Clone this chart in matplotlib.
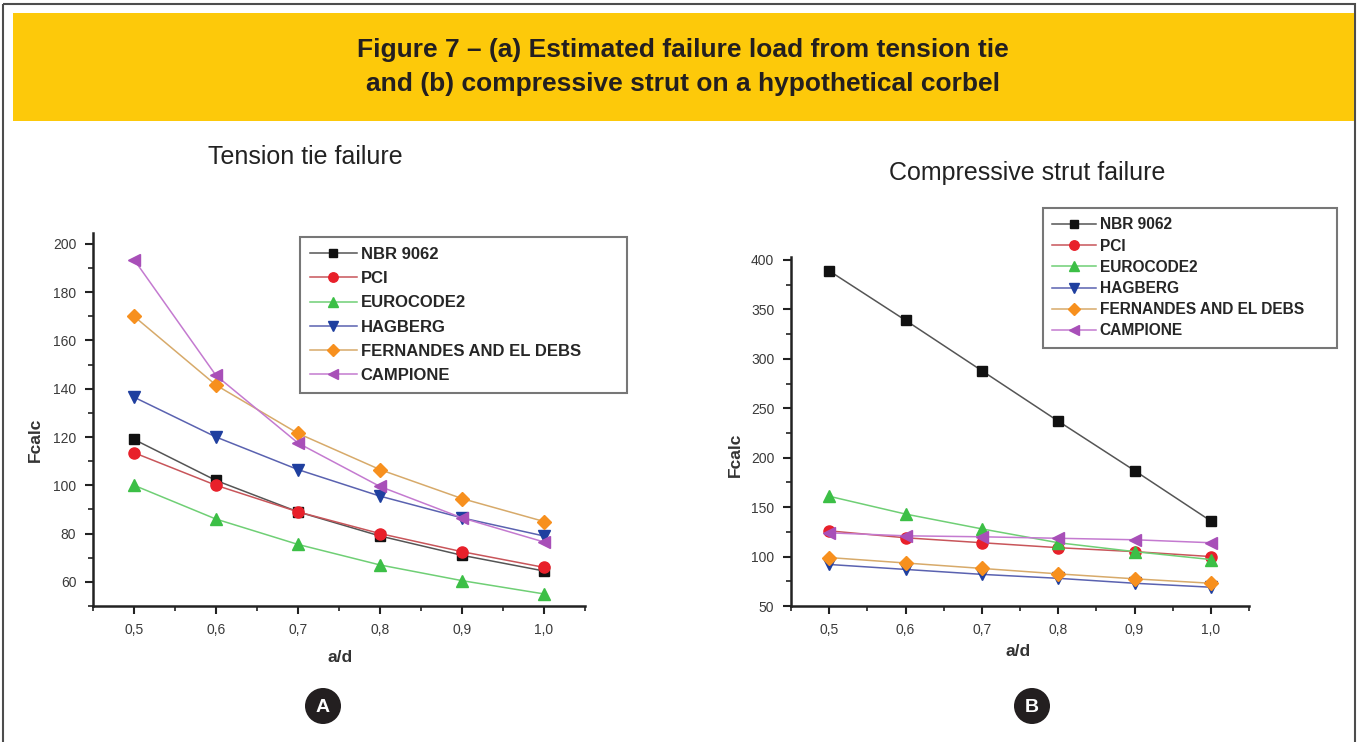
import matplotlib
matplotlib.use("Agg")
import matplotlib.pyplot as plt
from matplotlib.patches import Rectangle, Circle
from matplotlib.ticker import MultipleLocator, FuncFormatter

plt.rcParams['font.family'] = ['Liberation Sans', 'DejaVu Sans']

ad = [0.5, 0.6, 0.7, 0.8, 0.9, 1.0]
methods = ["NBR 9062", "PCI", "EUROCODE2", "HAGBERG", "FERNANDES AND EL DEBS", "CAMPIONE"]

# (a) tension tie failure
tie_nbr = [119, 102, 89, 79, 71, 64.5]
tie_pci = [113.5, 100, 89, 80, 72.5, 66]
tie_ec2 = [100, 86, 75.5, 67, 60.5, 55]
tie_hag = [136.5, 120, 106.5, 95.5, 86.5, 79]
tie_fed = [170, 141.5, 121.5, 106.5, 94.5, 85]
tie_cam = [193.5, 145.5, 117.5, 99.5, 86.5, 76.5]

# (b) compressive strut failure
strut_nbr = [389, 339, 288, 237, 187, 136]
strut_pci = [126, 119, 114, 109, 105, 100]
strut_ec2 = [161, 143, 128, 114, 105, 97]
strut_hag = [92, 87, 82, 78, 73, 69]
strut_fed = [99, 93.5, 88, 82.5, 77.5, 73]
strut_cam = [124, 121, 120, 118.5, 117, 114]

marker_colors = ["#111111", "#e8202a", "#3cbf46", "#1f3f9f", "#f7901e", "#a84fb8"]
line_colors = ["#555555", "#c8555a", "#6fcf75", "#5a62b0", "#d7aa6a", "#c47ad0"]
markers = ["s", "o", "^", "v", "D", "<"]
msizes = [7, 8, 9, 9, 7.5, 9]

W, H = 1358, 742
fig = plt.figure(figsize=(W / 100, H / 100), dpi=100)

# pixel-space backdrop for frame, banner and badges
bg = fig.add_axes([0, 0, 1, 1], zorder=-1)
bg.set_xlim(0, W)
bg.set_ylim(H, 0)
bg.axis("off")
bg.add_patch(Rectangle((3, 4), 1352, 745, fill=False, edgecolor="#4d4d4d", linewidth=1.5))
bg.add_patch(Rectangle((13, 13), 1341, 108, facecolor="#fdc90a", edgecolor="none"))
bg.text(683, 50, "Figure 7 – (a) Estimated failure load from tension tie",
        ha="center", va="center", fontsize=19, fontweight="bold", color="#231f20")
bg.text(683, 84, "and (b) compressive strut on a hypothetical corbel",
        ha="center", va="center", fontsize=19, fontweight="bold", color="#231f20")
for cx, letter in [(323, "A"), (1032, "B")]:
    bg.add_patch(Circle((cx, 706), 18, facecolor="#231f20", edgecolor="none"))
    bg.text(cx, 707, letter, ha="center", va="center", fontsize=14,
            fontweight="bold", color="white")

comma = FuncFormatter(lambda v, p: f"{v:.1f}".replace(".", ","))


def fx(px):
    return px / W


def fy(py):
    return 1 - py / H


def panel(rect, series, ylim, ymajor, yminor, title, title_xy, legend_rect,
          ylabel_xy, xlabel_xy, legend_size, legend_gap):
    ax = fig.add_axes(rect)
    for i, ys in enumerate(series):
        ax.plot(ad, ys, color=line_colors[i], linewidth=1.1, marker=markers[i],
                markersize=msizes[i], markerfacecolor=marker_colors[i],
                markeredgecolor=marker_colors[i], label=methods[i])
    ax.set_xlim(0.45, 1.05)
    ax.set_ylim(*ylim)
    ax.xaxis.set_major_locator(MultipleLocator(0.1))
    ax.xaxis.set_minor_locator(MultipleLocator(0.05))
    ax.xaxis.set_major_formatter(comma)
    ax.yaxis.set_major_locator(MultipleLocator(ymajor))
    ax.yaxis.set_minor_locator(MultipleLocator(yminor))
    for s in ("top", "right"):
        ax.spines[s].set_visible(False)
    for s in ("left", "bottom"):
        ax.spines[s].set_linewidth(1.8)
        ax.spines[s].set_color("#222222")
    ax.tick_params(which="major", direction="out", length=6, width=1.5,
                   labelsize=10, labelcolor="#3a3a3a", color="#222222", pad=6)
    ax.tick_params(which="minor", direction="out", length=3.5, width=1.2,
                   color="#222222")
    bg.text(title_xy[0], title_xy[1], title, ha="center", va="center",
            fontsize=18, color="#222222")
    bg.text(ylabel_xy[0], ylabel_xy[1], "Fcalc", ha="center", va="center",
            rotation=90, fontsize=12.5, fontweight="bold", color="#333333")
    bg.text(xlabel_xy[0], xlabel_xy[1], "a/d", ha="center", va="center",
            fontsize=12.5, fontweight="bold", color="#333333")
    x0, y0, x1, y1 = legend_rect
    leg = ax.legend(loc="upper left",
                    bbox_to_anchor=(fx(x0), fy(y1), fx(x1 - x0), fy(y0) - fy(y1)),
                    bbox_transform=fig.transFigure, mode="expand",
                    prop={"size": legend_size, "weight": "bold"},
                    frameon=True, fancybox=False, borderpad=0.6,
                    labelspacing=legend_gap, handlelength=2.8, handletextpad=0.25,
                    borderaxespad=0, markerscale=0.85)
    leg.get_frame().set_edgecolor("#555555")
    leg.get_frame().set_linewidth(1.5)
    for t in leg.get_texts():
        t.set_color("#262626")
    return ax


panel([fx(93), fy(606), fx(492), fy(233) - fy(606)],
      [tie_nbr, tie_pci, tie_ec2, tie_hag, tie_fed, tie_cam],
      (50, 204.5), 20, 10, "Tension tie failure", (305, 157),
      (300, 237, 627, 387), (35, 440), (340, 657), 12, 0.55)

panel([fx(791), fy(606), fx(458), fy(257) - fy(606)],
      [strut_nbr, strut_pci, strut_ec2, strut_hag, strut_fed, strut_cam],
      (50, 403), 50, 25, "Compressive strut failure", (1027, 173),
      (1043, 208, 1337, 348), (735, 455), (1018, 651), 11.2, 0.4)

fig.savefig("out.png", dpi=100)
